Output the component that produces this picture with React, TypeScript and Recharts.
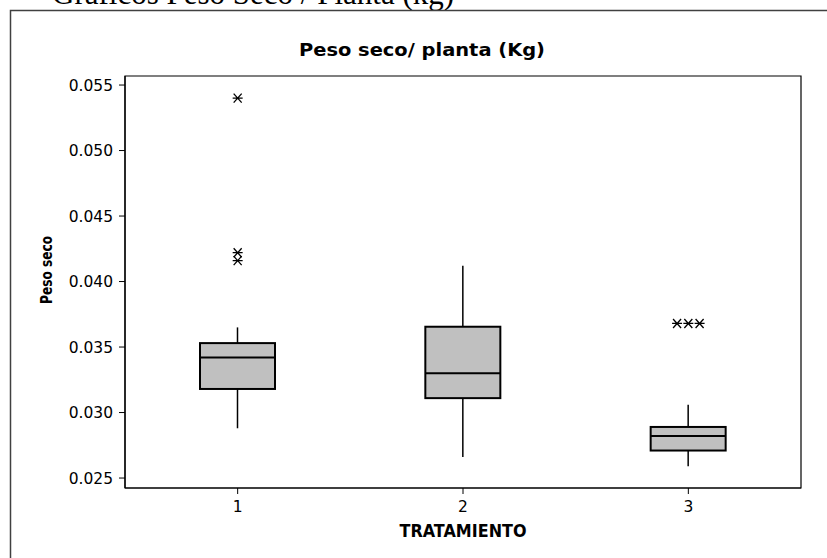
import React from 'react';
import { ComposedChart, Bar, Scatter, XAxis, YAxis, ReferenceArea } from 'recharts';

// ---- data ----
const categories = ['1', '2', '3'];
const whiskerLow = [0.0288, 0.0266, 0.0259];
const quartile1 = [0.0318, 0.0311, 0.0271];
const medians = [0.0342, 0.033, 0.0282];
const quartile3 = [0.0353, 0.03655, 0.0289];
const whiskerHigh = [0.0365, 0.0412, 0.0306];

const outlierGroup = [1, 1, 1, 3, 3, 3];
const outlierJitter = [0, 0, 0, -0.05, 0, 0.05];
const outlierValue = [0.054, 0.0422, 0.0416, 0.0368, 0.0368, 0.0368];

const yTicks = [0.025, 0.03, 0.035, 0.04, 0.045, 0.05, 0.055];
const yDomain = [0.02424, 0.05569];
const xDomain = [0.5, 3.5];

const pageTitle = 'Gráficos Peso Seco / Planta (kg)';
const chartTitle = 'Peso seco/ planta (Kg)';
const yLabel = 'Peso seco';
const xLabel = 'TRATAMIENTO';

const boxData = categories.map((cat, i) => ({
  cat,
  range: [whiskerLow[i], whiskerHigh[i]],
  low: whiskerLow[i],
  q1: quartile1[i],
  med: medians[i],
  q3: quartile3[i],
  high: whiskerHigh[i],
}));

const outlierData = outlierValue.map((v, i) => ({
  x: outlierGroup[i] + outlierJitter[i],
  y: v,
}));

const BoxShape = (props: any) => {
  const { x, y, width, height, payload } = props;
  if (!payload || x == null) return null;
  const top = Math.min(y, y + height);
  const bot = Math.max(y, y + height);
  const lo = payload.low;
  const hi = payload.high;
  const py = (v: number) => top + ((hi - v) / (hi - lo)) * (bot - top);
  const cx = x + width / 2;
  return (
    <g>
      <line x1={cx} x2={cx} y1={py(hi)} y2={py(payload.q3)} stroke="#000" strokeWidth={1.5} />
      <line x1={cx} x2={cx} y1={py(payload.q1)} y2={py(lo)} stroke="#000" strokeWidth={1.5} />
      <rect
        x={x}
        y={py(payload.q3)}
        width={width}
        height={py(payload.q1) - py(payload.q3)}
        fill="#c0c0c0"
        stroke="#000"
        strokeWidth={2}
      />
      <line x1={x} x2={x + width} y1={py(payload.med)} y2={py(payload.med)} stroke="#000" strokeWidth={2} />
    </g>
  );
};

const Asterisk = (props: any) => {
  const { cx, cy } = props;
  if (cx == null || cy == null) return null;
  return (
    <path
      d={`M${cx - 5},${cy} L${cx + 5},${cy} M${cx - 4},${cy - 4.5} L${cx + 4},${cy + 4.5} M${cx - 4},${cy + 4.5} L${cx + 4},${cy - 4.5}`}
      stroke="#000"
      strokeWidth={1.3}
      fill="none"
    />
  );
};

const tickStyle = { fill: '#000', fontSize: 15.5, fontFamily: 'DejaVu Sans' };

export default function App() {
  return (
    <div
      style={{
        position: 'absolute',
        left: 0,
        top: 0,
        width: 827,
        height: 558,
        overflow: 'hidden',
        background: '#fff',
      }}
    >
      <svg width={827} height={558} style={{ position: 'absolute', left: 0, top: 0 }}>
        <text x={52} y={4} fontFamily="Liberation Serif" fontSize={31} fill="#000">
          {pageTitle}
        </text>
        <rect x={10.5} y={10.5} width={900} height={900} fill="none" stroke="#404040" strokeWidth={1.5} />
      </svg>
      <div style={{ position: 'absolute', left: 0, top: 0 }}>
        <ComposedChart
          width={827}
          height={558}
          data={boxData}
          margin={{ top: 76, right: 26, bottom: 0, left: 0 }}
        >
          <XAxis
            dataKey="cat"
            xAxisId="cat"
            type="category"
            height={70}
            tickSize={6}
            tickMargin={7}
            tick={tickStyle}
            axisLine={{ stroke: '#000', strokeWidth: 1.2 }}
            tickLine={{ stroke: '#000' }}
          />
          <XAxis
            xAxisId="num"
            dataKey="x"
            type="number"
            domain={xDomain}
            allowDataOverflow
            hide
          />
          <YAxis
            yAxisId="v"
            type="number"
            domain={yDomain}
            allowDataOverflow
            ticks={yTicks}
            tickFormatter={(v: number) => v.toFixed(3)}
            width={125}
            tickSize={6}
            tickMargin={6}
            tick={tickStyle}
            axisLine={{ stroke: '#000', strokeWidth: 1.2 }}
            tickLine={{ stroke: '#000' }}
          />
          <ReferenceArea
            xAxisId="num"
            yAxisId="v"
            x1={xDomain[0]}
            x2={xDomain[1]}
            y1={yDomain[0]}
            y2={yDomain[1]}
            fill="none"
            fillOpacity={0}
            stroke="#000"
            strokeWidth={1.2}
            ifOverflow="visible"
          />
          <Bar
            xAxisId="cat"
            yAxisId="v"
            dataKey="range"
            barSize={75}
            shape={<BoxShape />}
            isAnimationActive={false}
          />
          <Scatter
            xAxisId="num"
            yAxisId="v"
            data={outlierData}
            dataKey="y"
            shape={<Asterisk />}
            isAnimationActive={false}
          />
        </ComposedChart>
      </div>
      <svg width={827} height={558} style={{ position: 'absolute', left: 0, top: 0, pointerEvents: 'none' }}>
        <text
          x={422}
          y={56}
          textAnchor="middle"
          fontFamily="DejaVu Sans"
          fontWeight="bold"
          fontSize={18}
          textLength={246}
          lengthAdjust="spacingAndGlyphs"
          fill="#000"
        >
          {chartTitle}
        </text>
        <text
          x={52}
          y={270}
          transform="rotate(-90, 52, 270)"
          textAnchor="middle"
          fontFamily="DejaVu Sans"
          fontWeight="bold"
          fontSize={15.5}
          textLength={68}
          lengthAdjust="spacingAndGlyphs"
          fill="#000"
        >
          {yLabel}
        </text>
        <text
          x={463}
          y={537}
          textAnchor="middle"
          fontFamily="DejaVu Sans"
          fontWeight="bold"
          fontSize={18}
          textLength={127}
          lengthAdjust="spacingAndGlyphs"
          fill="#000"
        >
          {xLabel}
        </text>
      </svg>
    </div>
  );
}
